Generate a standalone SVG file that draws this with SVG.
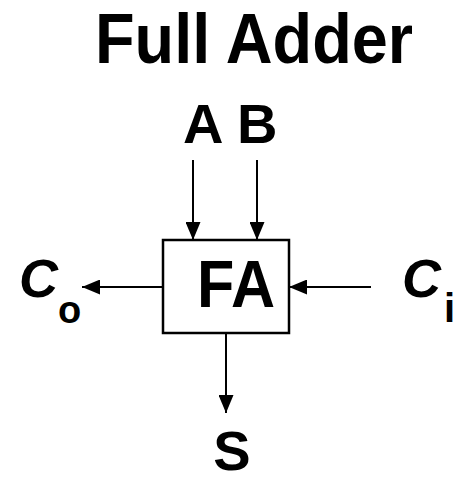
<svg xmlns="http://www.w3.org/2000/svg" width="456" height="483" viewBox="0 0 456 483">
<style>
text { font-family: "Liberation Sans", "DejaVu Sans", sans-serif; font-weight: 700; fill: #000; }
.wire { stroke: #000; stroke-width: 2; fill: none; marker-end: url(#ah); }
.box { fill: #fff; stroke: #000; stroke-width: 2.5; }
</style>
<defs>
<marker id="ah" markerUnits="userSpaceOnUse" markerWidth="18" markerHeight="15" refX="18" refY="7.5" orient="auto">
<path d="M0,0 L18,7.5 L0,15 z" fill="#000"/>
</marker>
</defs>
<rect width="456" height="483" fill="#fff"/>
<text id="title" x="95" y="63" font-size="71" textLength="318" lengthAdjust="spacingAndGlyphs">Full Adder</text>
<g id="connectors">
<line class="wire" x1="193" y1="160" x2="193" y2="240"/>
<line class="wire" x1="257" y1="160" x2="257" y2="240"/>
<line class="wire" x1="163" y1="287" x2="82" y2="287"/>
<line class="wire" x1="371" y1="287" x2="289" y2="287"/>
<line class="wire" x1="226" y1="333" x2="226" y2="413"/>
</g>
<g id="FA">
<rect class="box" x="163" y="240" width="126" height="93"/>
<text x="197" y="307" font-size="67" textLength="78" lengthAdjust="spacingAndGlyphs">FA</text>
</g>
<g id="AB">
<text x="183" y="143" font-size="56">A B</text>
</g>
<g id="Co">
<text x="19" y="297" font-size="54" font-style="italic">C</text>
<text x="58" y="323" font-size="38">o</text>
</g>
<g id="Ci">
<text x="402" y="297" font-size="54" font-style="italic">C</text>
<text x="444" y="322" font-size="40">i</text>
</g>
<g id="S">
<text x="232" y="470" font-size="56" text-anchor="middle">S</text>
</g>
</svg>
